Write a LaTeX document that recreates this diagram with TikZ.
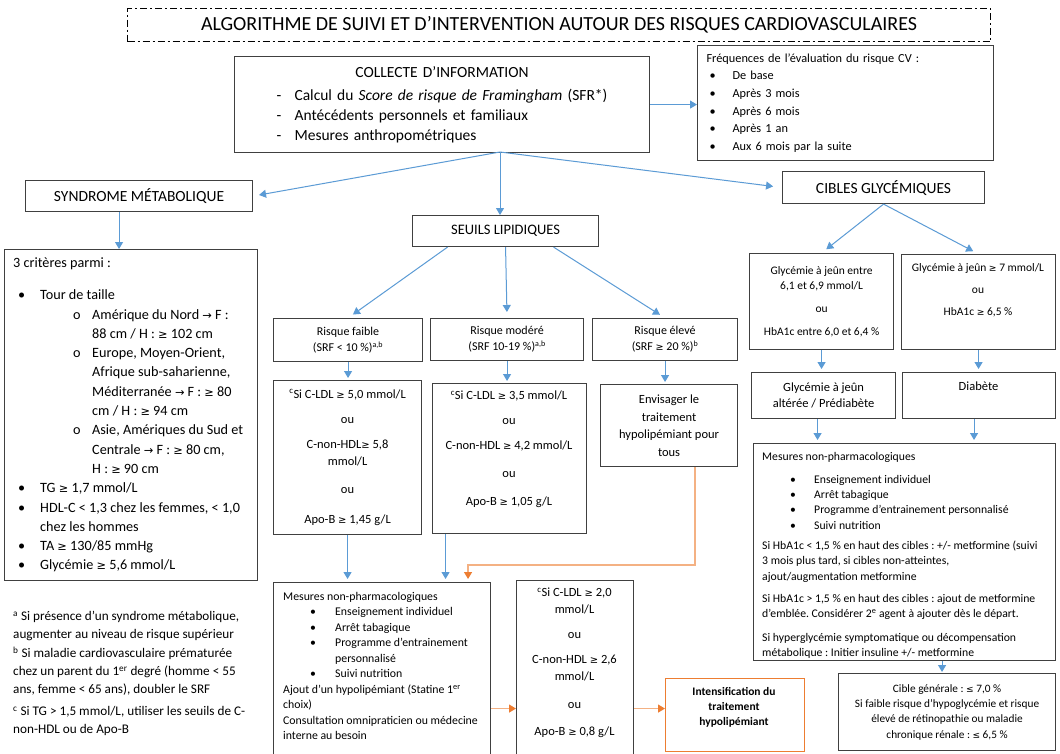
\documentclass[tikz,border=0pt]{standalone}
\usepackage{fontspec}
\setmainfont{Carlito}
\newfontfamily\symfont{DejaVu Sans}[Scale=0.8]
\frenchspacing
\usetikzlibrary{arrows.meta}
\definecolor{boxgray}{HTML}{404040}
\definecolor{arrblue}{HTML}{5B9BD5}
\definecolor{orangedk}{HTML}{ED7D31}
\definecolor{orangelt}{HTML}{F4B183}
\newcommand{\setfs}[2]{\fontsize{#1}{#2}\selectfont}
\newcommand{\GEQ}{{\symfont ≥}}
\newcommand{\LEQ}{{\symfont ≤}}
\newcommand{\RARR}{{\symfont →}}
\newcommand{\itm}[3]{\hspace*{#1}\makebox[#2][l]{\textbullet}#3}
\begin{document}
\begin{tikzpicture}[x=1pt,y=-1pt,
    box/.style={draw=boxgray,line width=1.1pt,inner sep=0pt,anchor=north west,align=center},
    txt/.style={inner sep=0pt,align=center},
    arr/.style={draw=arrblue,line width=1pt,-{Triangle[width=8pt,length=7pt]}},
    oarr/.style={draw=orangelt,line width=1.3pt,-{Triangle[width=8pt,length=7pt,color=orangedk]}}]
\path[use as bounding box,fill=white] (0,0) rectangle (1060,753);

\node[box,draw=black,dash pattern=on 7pt off 3pt on 2pt off 3pt,minimum width=863pt,minimum height=33pt,font=\setfs{20}{22}] (titre) at (127,8) {ALGORITHME DE SUIVI ET D’INTERVENTION AUTOUR DES RISQUES CARDIOVASCULAIRES};

\node[box,minimum width=415pt,minimum height=96pt,text width=395pt,align=left,font=\setfs{15.5}{20}] (collecte) at (234,56)
  {\makebox[395pt]{COLLECTE D’INFORMATION}\\[3pt]
   \hspace*{32pt}\makebox[18pt][l]{-}Calcul du \textit{Score de risque de Framingham} (SFR*)\\
   \hspace*{32pt}\makebox[18pt][l]{-}Antécédents personnels et familiaux\\
   \hspace*{32pt}\makebox[18pt][l]{-}Mesures anthropométriques};
\node[box,minimum width=296pt,minimum height=115pt,text width=278pt,align=left,font=\setfs{12.3}{17.6}] (freq) at (697,45)
  {Fréquences de l’évaluation du risque CV :\\
   \itm{3pt}{23pt}{De base}\\
   \itm{3pt}{23pt}{Après 3 mois}\\
   \itm{3pt}{23pt}{Après 6 mois}\\
   \itm{3pt}{23pt}{Après 1 an}\\
   \itm{3pt}{23pt}{Aux 6 mois par la suite}};
\coordinate (hub) at (500,152);

\node[box,minimum width=227pt,minimum height=31pt,font=\setfs{15.5}{17}] (syndrome) at (25,180) {SYNDROME MÉTABOLIQUE};
\node[box,minimum width=186pt,minimum height=31pt,font=\setfs{14.5}{17}] (seuils) at (412,215) {SEUILS LIPIDIQUES};
\node[box,minimum width=202pt,minimum height=32pt,font=\setfs{15.5}{17}] (cibles) at (782,171) {CIBLES GLYCÉMIQUES};

\node[box,minimum width=253pt,minimum height=331pt] (crit) at (4,249) {};
\node[txt,anchor=west,align=left,font=\setfs{14.2}{19.3}] (critt) at ([xshift=9pt]crit.west)
  {3 critères parmi :\\[12.7pt]
   \itm{5pt}{22pt}{Tour de taille}\\
   \hspace*{60pt}\makebox[19pt][l]{o}Amérique du Nord \RARR{} F :\\
   \hspace*{79pt}88 cm / H : \GEQ{} 102 cm\\
   \hspace*{60pt}\makebox[19pt][l]{o}Europe, Moyen-Orient,\\
   \hspace*{79pt}Afrique sub-saharienne,\\
   \hspace*{79pt}Méditerranée \RARR{} F : \GEQ{} 80\\
   \hspace*{79pt}cm / H : \GEQ{} 94 cm\\
   \hspace*{60pt}\makebox[19pt][l]{o}Asie, Amériques du Sud et\\
   \hspace*{79pt}Centrale \RARR{} F : \GEQ{} 80 cm,\\
   \hspace*{79pt}H : \GEQ{} 90 cm\\
   \itm{5pt}{22pt}{TG \GEQ{} 1,7 mmol/L}\\
   \itm{5pt}{22pt}{HDL-C < 1,3 chez les femmes, < 1,0}\\
   \hspace*{27pt}chez les hommes\\
   \itm{5pt}{22pt}{TA \GEQ{} 130/85 mmHg}\\
   \itm{5pt}{22pt}{Glycémie \GEQ{} 5,6 mmol/L}};
\node[txt,anchor=north west,align=left,font=\setfs{13.2}{18}] (notes) at (13,611)
  {\textsuperscript{a} Si présence d’un syndrome métabolique,\\
   augmenter au niveau de risque supérieur\\[1pt]
   \textsuperscript{b} Si maladie cardiovasculaire prématurée\\
   chez un parent du 1\textsuperscript{er} degré (homme < 55\\
   ans, femme < 65 ans), doubler le SRF\\[4pt]
   \textsuperscript{c} Si TG > 1,5 mmol/L, utiliser les seuils de C-\\
   non-HDL ou de Apo-B};

\node[box,minimum width=149pt,minimum height=43pt,font=\setfs{12}{16}] (faible) at (273,318) {Risque faible\\(SRF < 10 \%)\textsuperscript{a,b}};
\node[box,minimum width=153pt,minimum height=42pt,font=\setfs{12}{16}] (moder) at (430,318) {Risque modéré\\(SRF 10-19 \%)\textsuperscript{a,b}};
\node[box,minimum width=145pt,minimum height=42pt,font=\setfs{12}{16}] (eleve) at (592,318) {Risque élevé\\(SRF \GEQ{} 20 \%)\textsuperscript{b}};

\node[box,minimum width=148pt,minimum height=154pt,font=\setfs{12.5}{17}] (ldl1) at (273,380)
  {\textsuperscript{c}Si C-LDL \GEQ{} 5,0 mmol/L\\[8pt]ou\\[8pt]C-non-HDL\GEQ{} 5,8\\mmol/L\\[11pt]ou\\[13pt]Apo-B \GEQ{} 1,45 g/L};
\node[box,minimum width=154pt,minimum height=150pt] (ldl2) at (432,383) {};
\node[txt,anchor=north,font=\setfs{12.5}{17}] (ldl2t) at (509,391)
  {\textsuperscript{c}Si C-LDL \GEQ{} 3,5 mmol/L\\[8pt]ou\\[8pt]C-non-HDL \GEQ{} 4,2 mmol/L\\[11pt]ou\\[11pt]Apo-B \GEQ{} 1,05 g/L};
\node[box,minimum width=137pt,minimum height=82pt,font=\setfs{12.5}{17.5}] (envis) at (600,384) {Envisager le\\traitement\\hypolipémiant pour\\tous};

\node[box,minimum width=217pt,minimum height=252pt] (mesL) at (273,582) {};
\node[txt,anchor=north west,align=left,font=\setfs{11.8}{15.5}] (mesLt) at (283,592)
  {Mesures non-pharmacologiques\\
   \itm{27pt}{25pt}{Enseignement individuel}\\
   \itm{27pt}{25pt}{Arrêt tabagique}\\
   \itm{27pt}{25pt}{Programme d’entrainement}\\
   \hspace*{52pt}personnalisé\\
   \itm{27pt}{25pt}{Suivi nutrition}\\
   Ajout d’un hypolipémiant (Statine 1\textsuperscript{er}\\
   choix)\\
   Consultation omnipraticien ou médecine\\
   interne au besoin};
\node[box,minimum width=117pt,minimum height=256pt] (ldl3) at (516,580) {};
\node[txt,anchor=north,font=\setfs{12.5}{17}] (ldl3t) at (574.5,588)
  {\textsuperscript{c}Si C-LDL \GEQ{} 2,0\\mmol/L\\[8pt]ou\\[8pt]C-non-HDL \GEQ{} 2,6\\mmol/L\\[11pt]ou\\[10pt]Apo-B \GEQ{} 0,8 g/L};
\node[box,draw=orangedk,line width=1.4pt,minimum width=139pt,minimum height=73pt] (intens) at (665,678) {};
\node[txt,anchor=north,font=\setfs{11.5}{15}\bfseries] (intenst) at (734,687) {Intensification du\\traitement\\hypolipémiant};

\node[box,minimum width=144pt,minimum height=96pt,font=\setfs{11.5}{15}] (g1) at (749,253)
  {Glycémie à jeûn entre\\6,1 et 6,9 mmol/L\\[8pt]ou\\[8pt]HbA1c entre 6,0 et 6,4 \%};
\node[box,minimum width=154pt,minimum height=95pt] (g2) at (901,254) {};
\node[txt,anchor=north,font=\setfs{11.5}{15}] (g2t) at (978,263) {Glycémie à jeûn \GEQ{} 7 mmol/L\\[7.5pt]ou\\[7pt]HbA1c \GEQ{} 6,5 \%};
\node[box,minimum width=144pt,minimum height=46pt,font=\setfs{12.5}{16}] (g3) at (751,372) {Glycémie à jeûn\\altérée / Prédiabète};
\node[box,minimum width=153pt,minimum height=46pt] (g4) at (902,372) {};
\node[txt,anchor=north,font=\setfs{12.5}{16}] (g4t) at (978.5,382) {Diabète};

\node[box,minimum width=302pt,minimum height=217pt] (mesR) at (753,443) {};
\node[txt,anchor=west,align=left,font=\setfs{11.7}{15.3}] (mesRt) at ([shift={(9,3)}]mesR.west)
  {Mesures non-pharmacologiques\\[8pt]
   \itm{28pt}{24pt}{Enseignement individuel}\\
   \itm{28pt}{24pt}{Arrêt tabagique}\\
   \itm{28pt}{24pt}{Programme d’entrainement personnalisé}\\
   \itm{28pt}{24pt}{Suivi nutrition}\\[5pt]
   Si HbA1c < 1,5 \% en haut des cibles : +/- metformine (suivi\\
   3 mois plus tard, si cibles non-atteintes,\\
   ajout/augmentation metformine\\[7pt]
   Si HbA1c > 1,5 \% en haut des cibles : ajout de metformine\\
   d’emblée. Considérer 2\textsuperscript{e} agent à ajouter dès le départ.\\[8pt]
   Si hyperglycémie symptomatique ou décompensation\\
   métabolique : Initier insuline +/- metformine};
\node[box,minimum width=217pt,minimum height=77pt,font=\setfs{11.3}{15.3}] (cible) at (838,673)
  {Cible générale : \LEQ{} 7,0 \%\\Si faible risque d’hypoglycémie et risque\\élevé de rétinopathie ou maladie\\chronique rénale : \LEQ{} 6,5 \%};

\draw[arr] (collecte.east) -- (collecte.east -| freq.west);
\draw[arr,shorten >=6pt] (hub) -- (syndrome.east);
\draw[arr] (hub) -- (hub |- seuils.north);
\draw[arr,shorten >=9pt] (hub) -- (cibles.west);
\draw[arr] ([xshift=-20pt]syndrome.south) -- ([xshift=-20pt]syndrome.south |- crit.north);
\draw[arr,shorten >=6pt] ([xshift=-58pt]seuils.south) -- (faible.north);
\draw[arr,shorten >=6pt] (seuils.south) -- (moder.north);
\draw[arr,shorten >=6pt] ([xshift=48pt]seuils.south) -- (eleve.north);
\draw[arr,shorten >=2pt] (faible.south) -- (faible.south |- ldl1.north);
\draw[arr,shorten >=2pt] (moder.south) -- (moder.south |- ldl2.north);
\draw[arr,shorten >=2pt] (eleve.south) -- (eleve.south |- envis.north);
\draw[arr,shorten >=3pt] (ldl1.south) -- (ldl1.south |- mesL.north);
\draw[arr,shorten >=3pt] ([xshift=-64pt]ldl2.south) -- ([xshift=-64pt]ldl2.south |- mesL.north);
\coordinate (coude) at (695,565);
\draw[oarr,shorten >=3pt] (envis.south -| coude) -- (coude) -| ([xshift=86pt]mesL.north);
\draw[oarr] (mesL.east) -- (ldl3.west);
\draw[oarr] (ldl3.east) -- (ldl3.east -| intens.west);
\draw[arr,shorten >=6pt] (cibles.south) -- (g1.north);
\draw[arr,shorten >=6pt] (cibles.south) -- (g2.north);
\draw[arr,shorten >=3pt] (g1.south) -- (g1.south |- g3.north);
\draw[arr,shorten >=3pt] (g2.south) -- (g2.south |- g4.north);
\draw[arr,shorten >=3pt] ([xshift=-6pt]g3.south) -- ([xshift=-6pt]g3.south |- mesR.north);
\draw[arr,shorten >=3pt] ([xshift=-5pt]g4.south) -- ([xshift=-5pt]g4.south |- mesR.north);
\draw[arr,shorten >=1pt] ([xshift=-5pt]cible.north |- mesR.south) -- ([xshift=-5pt]cible.north);
\end{tikzpicture}
\end{document}
